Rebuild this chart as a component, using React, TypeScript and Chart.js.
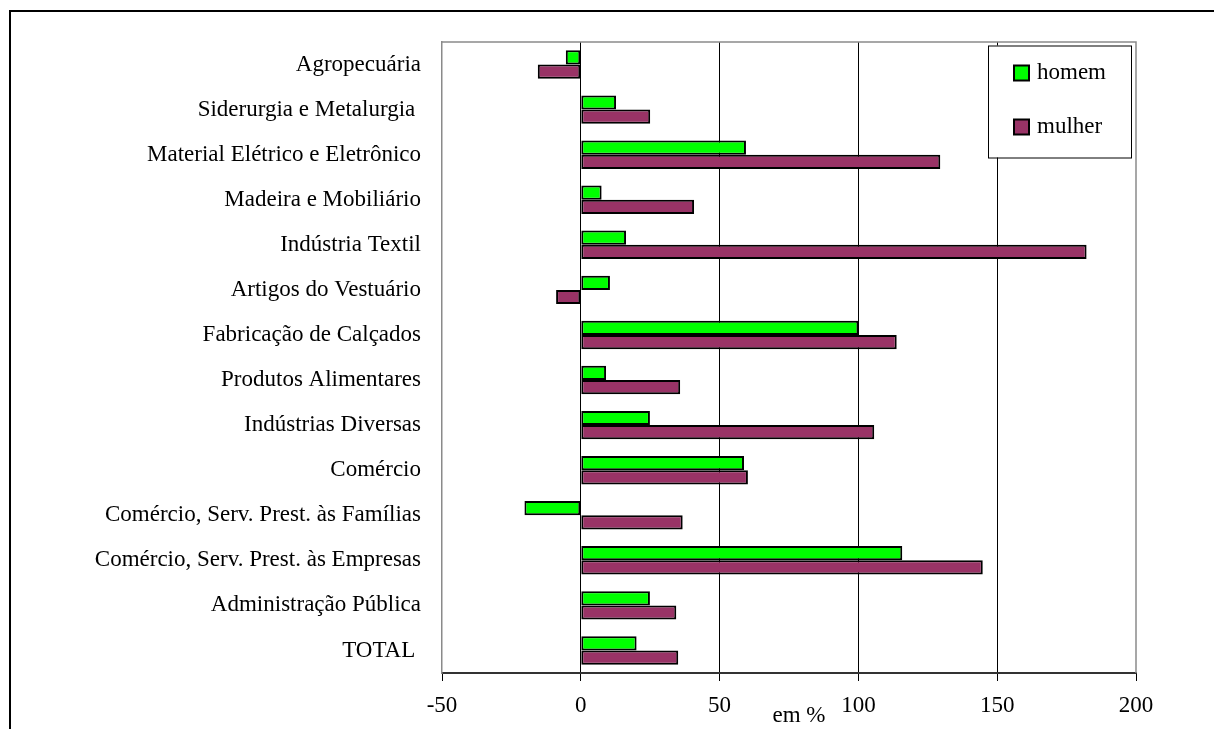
import React, { useEffect, useRef } from "react";
import { Chart, registerables } from "chart.js";

Chart.register(...registerables);

const categories = [
  "Agropecuária",
  "Siderurgia e Metalurgia ",
  "Material Elétrico e Eletrônico",
  "Madeira e Mobiliário",
  "Indústria Textil",
  "Artigos do Vestuário",
  "Fabricação de Calçados",
  "Produtos Alimentares",
  "Indústrias Diversas",
  "Comércio",
  "Comércio, Serv. Prest. às Famílias",
  "Comércio, Serv. Prest. às Empresas",
  "Administração Pública",
  "TOTAL ",
];

const homem = [-5.4, 12.7, 59.5, 7.5, 16.3, 10.5, 100, 9.1, 24.9, 58.8, -20.3, 115.8, 24.9, 20.1];
const mulher = [-15.5, 25, 129.5, 40.8, 182.2, -8.9, 113.8, 35.8, 105.7, 60.2, 36.7, 144.8, 34.4, 35.1];

const xTicks = [-50, 0, 50, 100, 150, 200];
const axisTitle = "em %";
const seriesNames = ["homem", "mulher"];

const FONT = "'Liberation Serif', 'Times New Roman', serif";

export default function App() {
  const ref = useRef<HTMLCanvasElement | null>(null);

  useEffect(() => {
    if (!ref.current) return;

    const extras = {
      id: "extras",
      afterDraw(chart: any) {
        const { ctx, chartArea } = chart;
        ctx.save();
        // top & right border of plot
        ctx.strokeStyle = "#8a8a8a";
        ctx.lineWidth = 1.5;
        ctx.beginPath();
        ctx.moveTo(chartArea.left, chartArea.top);
        ctx.lineTo(chartArea.right, chartArea.top);
        ctx.lineTo(chartArea.right, chartArea.bottom);
        ctx.stroke();

        // legend
        const bx = chartArea.right - 148;
        const by = chartArea.top + 3.5;
        const bw = 143;
        const bh = 112;
        ctx.fillStyle = "#fff";
        ctx.fillRect(bx, by, bw, bh);
        ctx.strokeStyle = "#000";
        ctx.lineWidth = 1;
        ctx.strokeRect(bx + 0.5, by + 0.5, bw, bh);
        ctx.font = `23px ${FONT}`;
        ctx.textBaseline = "middle";
        ctx.textAlign = "left";
        chart.data.datasets.forEach((ds: any, i: number) => {
          const cy = by + 27.5 + i * 54;
          ctx.fillStyle = ds.backgroundColor;
          ctx.fillRect(bx + 26, cy - 7.5, 15, 15);
          ctx.strokeStyle = "#000";
          ctx.lineWidth = 2;
          ctx.strokeRect(bx + 26, cy - 7.5, 15, 15);
          ctx.fillStyle = "#000";
          ctx.fillText(ds.label, bx + 49, cy);
        });

        // axis title
        ctx.font = `23px ${FONT}`;
        ctx.textAlign = "center";
        ctx.fillStyle = "#000";
        ctx.fillText(axisTitle, (chartArea.left + chartArea.right) / 2 + 10, chartArea.bottom + 43);
        ctx.restore();
      },
    };

    const chart = new Chart(ref.current, {
      type: "bar",
      data: {
        labels: categories,
        datasets: [
          {
            label: seriesNames[0],
            data: homem,
            backgroundColor: "#00ff00",
            borderColor: "#000",
            borderWidth: 2,
            borderSkipped: false,
            categoryPercentage: 0.63,
            barPercentage: 1,
          },
          {
            label: seriesNames[1],
            data: mulher,
            backgroundColor: "#993366",
            borderColor: "#000",
            borderWidth: 2,
            borderSkipped: false,
            categoryPercentage: 0.63,
            barPercentage: 1,
          },
        ],
      },
      options: {
        indexAxis: "y",
        responsive: false,
        animation: false,
        layout: { padding: { left: 0, right: 78, top: 42, bottom: 0 } },
        plugins: {
          legend: { display: false },
          tooltip: { enabled: false },
          title: { display: false },
        },
        scales: {
          x: {
            type: "linear",
            min: -50,
            max: 200,
            afterBuildTicks: (axis: any) => {
              axis.ticks = xTicks.map((v) => ({ value: v }));
            },
            afterFit: (axis: any) => {
              axis.height = 56;
            },
            grid: {
              color: (c: any) =>
                c.tick && (c.tick.value === -50 || c.tick.value === 200) ? "rgba(0,0,0,0)" : "#000",
              lineWidth: 1,
              tickLength: 8,
              tickColor: "#000",
              drawTicks: true,
            },
            border: { display: true, color: "#333", width: 2 },
            ticks: {
              color: "#000",
              font: { family: FONT, size: 23 },
              padding: 11,
              maxRotation: 0,
            },
          },
          y: {
            type: "category",
            afterFit: (axis: any) => {
              axis.width = 442;
            },
            grid: { display: false, drawTicks: false },
            border: { display: true, color: "#8a8a8a", width: 1.5 },
            ticks: {
              color: "#000",
              font: { family: FONT, size: 23 },
              padding: 21,
              autoSkip: false,
            },
          },
        },
      },
      plugins: [extras],
    });

    return () => chart.destroy();
  }, []);

  return (
    <div
      style={{
        position: "absolute",
        left: 0,
        top: 0,
        width: 1214,
        height: 729,
        overflow: "hidden",
        background: "#fff",
      }}
    >
      <div
        style={{
          position: "absolute",
          left: 9,
          top: 10,
          width: 1400,
          height: 900,
          borderTop: "2px solid #000",
          borderLeft: "2px solid #000",
        }}
      />
      <canvas
        ref={ref}
        width={1214}
        height={729}
        style={{ position: "absolute", left: 0, top: 0, width: 1214, height: 729 }}
      />
    </div>
  );
}
